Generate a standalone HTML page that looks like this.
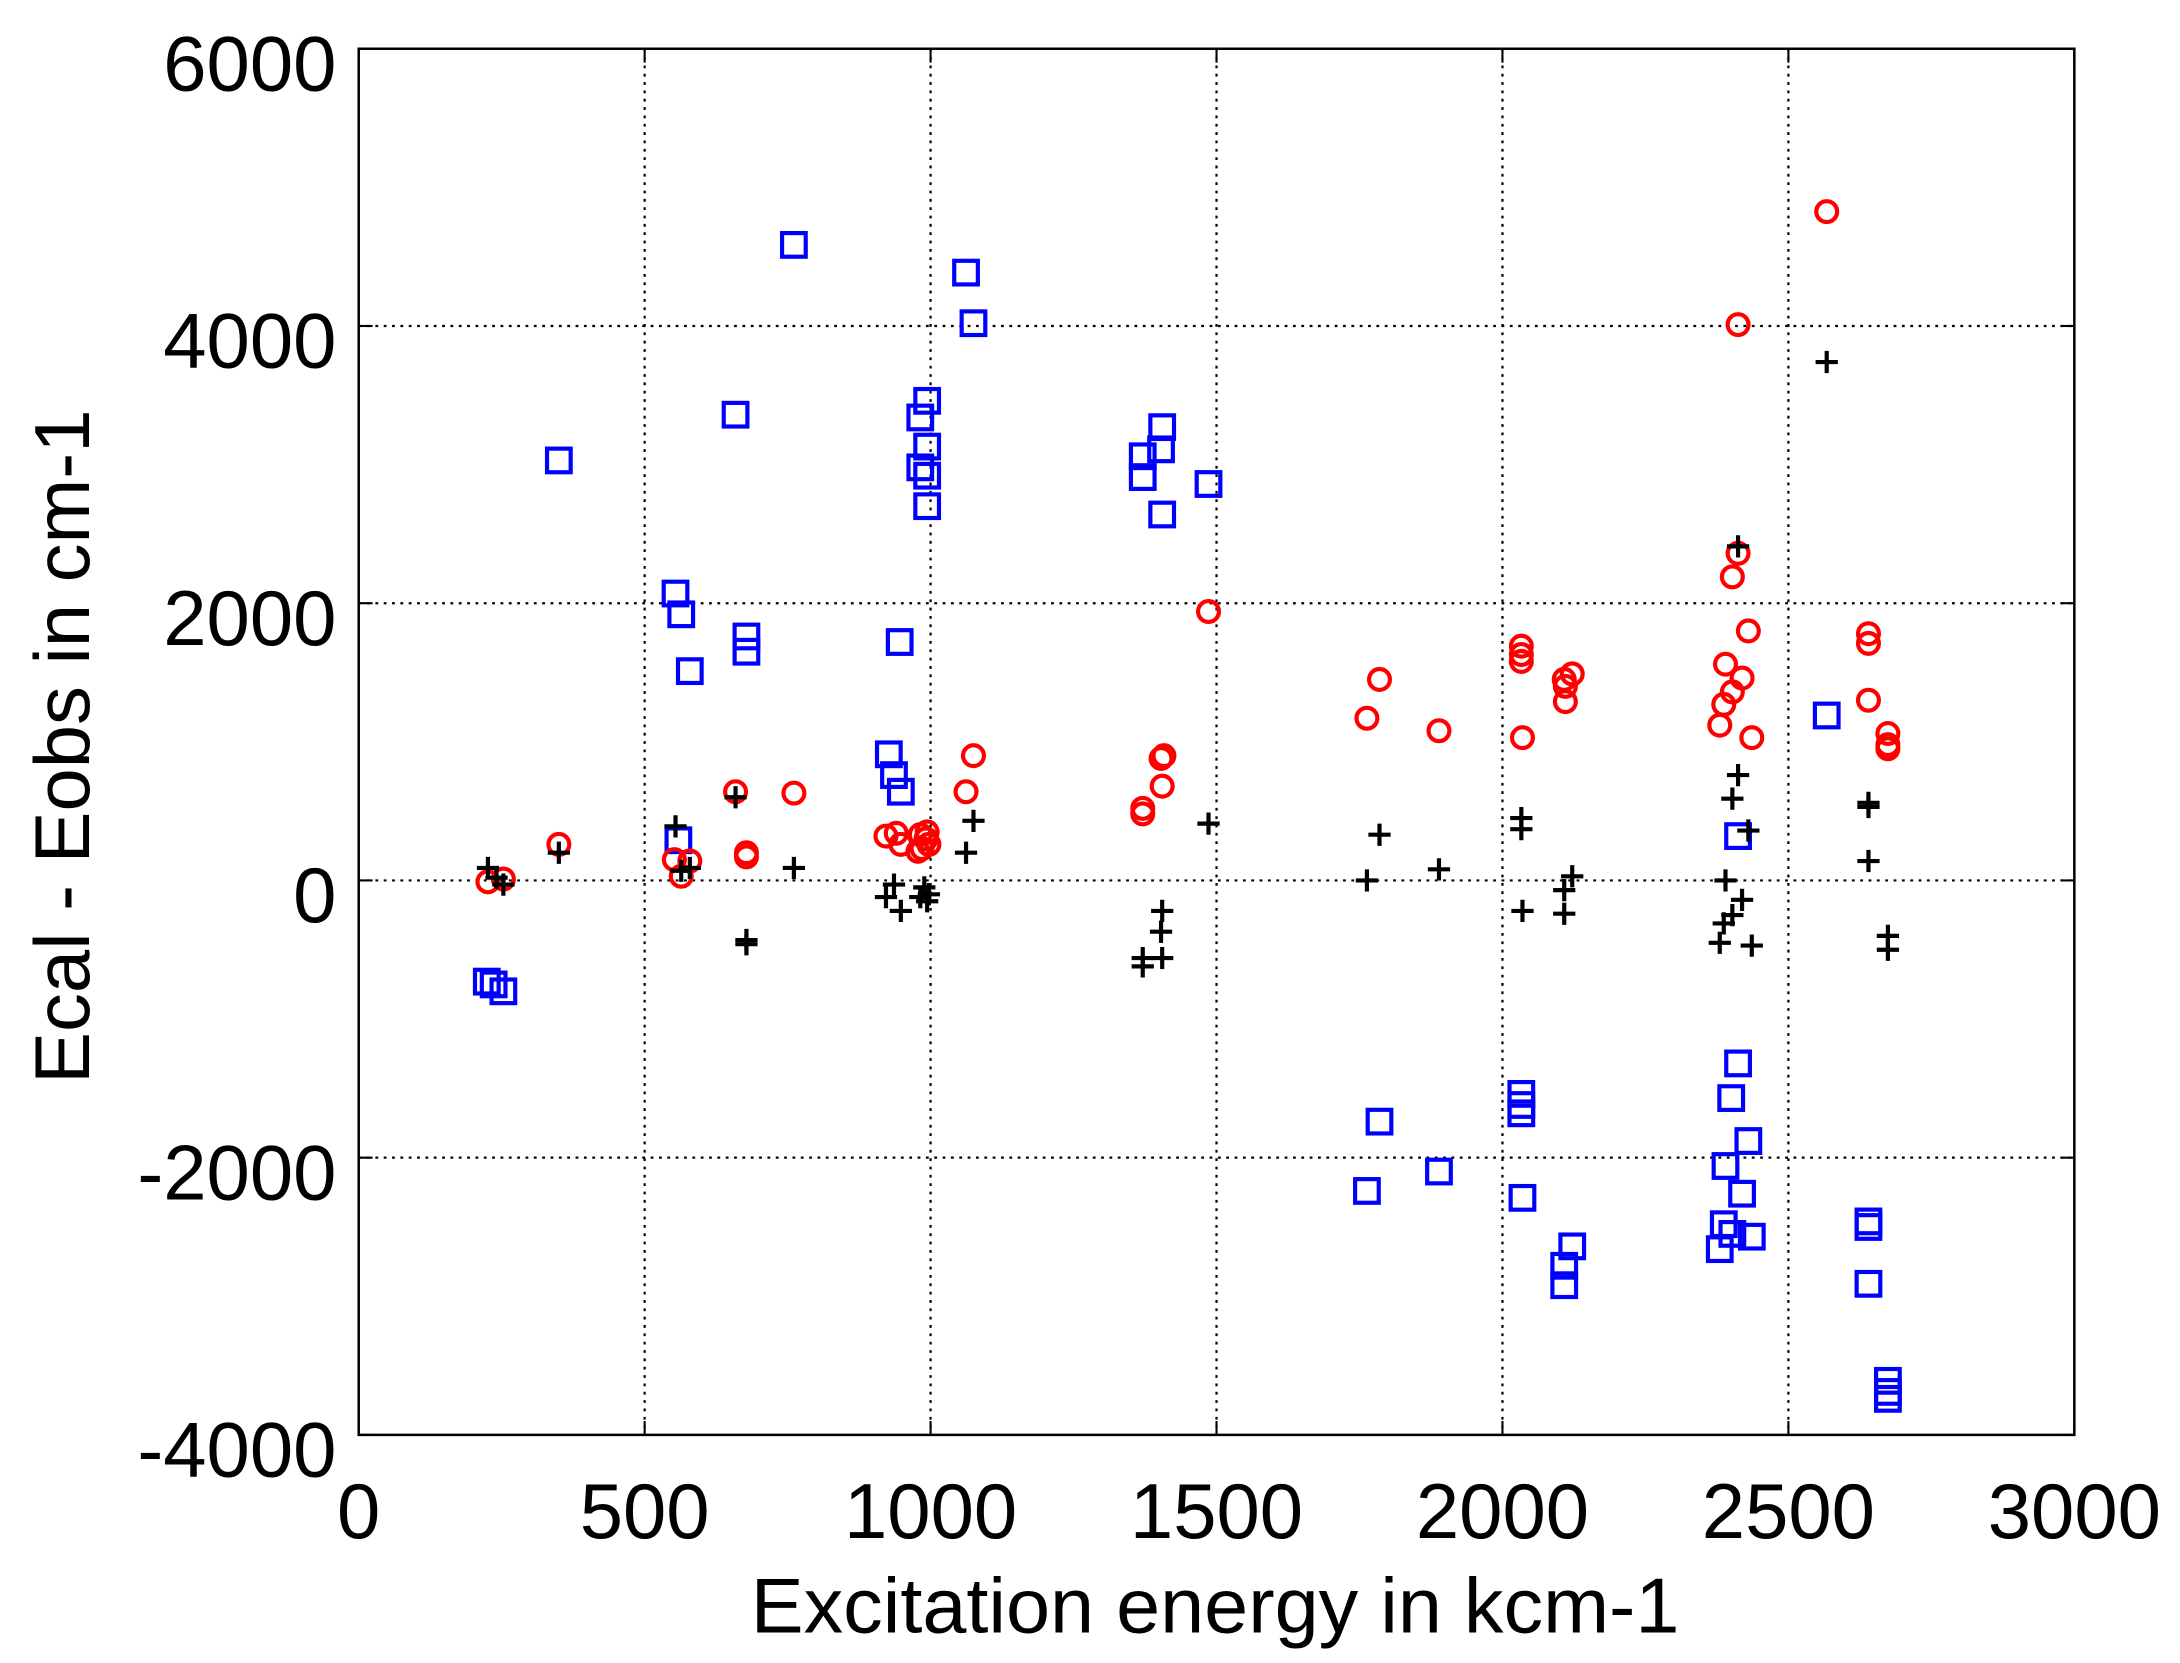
<!DOCTYPE html>
<html><head><meta charset="utf-8"><style>
html,body{margin:0;padding:0;background:#fff;}
svg{display:block;}
text{font-family:"Liberation Sans",Arial,sans-serif;fill:#000;}
</style></head><body>
<svg id="chart" width="2180" height="1663" viewBox="0 0 1568 1196" xmlns="http://www.w3.org/2000/svg">
<rect x="0" y="0" width="1568" height="1196" fill="#fff"/>
<g id="grid"></g>
<g id="ticks"></g>
<g id="marks"></g>
<rect x="258" y="35" width="1234" height="997" fill="none" stroke="#000" stroke-width="1.8"/>
<text x="874" y="1174" font-size="56" text-anchor="middle" textLength="668" lengthAdjust="spacingAndGlyphs">Excitation energy in kcm-1</text>
<text transform="translate(64,537) rotate(-90)" font-size="56" text-anchor="middle" textLength="485" lengthAdjust="spacingAndGlyphs">Ecal - Eobs in cm-1</text>
</svg>
<script>
const xTicks=[0,500,1000,1500,2000,2500,3000];
const yTicks=[-4000,-2000,0,2000,4000,6000];
const blueX=[224,236,253,350,761,1062,1075,659,982,994,994,982,994,994,1371,1371,1405,1403,1405,1486,554,564,579,678,678,946,927,936,948,559,2567,2412,1763,1785,1889,2033,2033,2033,2035,2108,2108,2122,2412,2400,2390,2430,2419,2387,2402,2380,2436,2640,2640,2640,2674,2674,2674];
const blueY=[-730,-750,-800,3030,4585,4385,4020,3360,3340,3460,3130,2980,2920,2700,3060,2910,3270,3110,2640,2860,2070,1920,1510,1760,1650,1720,910,760,640,290,1190,320,-2240,-1740,-2100,-1540,-1620,-1680,-2290,-2780,-2920,-2640,-1320,-1570,-2060,-1880,-2260,-2480,-2550,-2660,-2570,-2460,-2500,-2910,-3610,-3690,-3740];
const redX=[226,253,350,552,564,579,659,678,678,761,922,940,948,982,985,992,997,994,978,1062,1075,1371,1371,1403,1408,1405,1486,1763,1785,1889,2033,2033,2033,2035,2108,2110,2110,2122,2412,2567,2412,2402,2430,2390,2419,2402,2387,2380,2436,2640,2640,2640,2674,2674,2674];
const redY=[-10,10,260,150,30,140,640,200,170,630,320,340,260,330,230,300,260,350,210,640,900,520,480,880,900,680,1940,1170,1450,1080,1690,1630,1580,1030,1450,1290,1400,1490,4010,4825,2360,2190,1800,1560,1460,1360,1270,1120,1030,1780,1710,1300,1060,980,950];
const blackX=[226,241,253,350,554,564,579,659,678,678,761,922,936,948,982,994,989,997,1062,1075,1371,1371,1405,1403,1405,1486,1763,1785,1889,2033,2033,2035,2108,2108,2122,2567,2412,2412,2402,2430,2390,2419,2402,2387,2380,2436,2640,2640,2640,2674,2674];
const blackY=[90,20,-30,200,390,70,90,600,-430,-460,90,-120,-30,-220,-120,-150,-50,-100,200,430,-560,-620,-220,-370,-560,410,0,330,80,450,370,-220,-70,-240,30,3740,2410,760,590,360,0,-140,-250,-310,-450,-470,560,530,140,-400,-500];

const L=258,R=1492,T=35,B=1032;
const sx=v=>L+(v-0)/3000*(R-L);
const sy=v=>B-(v+4000)/10000*(B-T);
const NS="http://www.w3.org/2000/svg";
function mk(tag,attrs,parent){const e=document.createElementNS(NS,tag);for(const k in attrs)e.setAttribute(k,attrs[k]);parent.appendChild(e);return e;}
const grid=document.getElementById('grid'),ticks=document.getElementById('ticks'),marks=document.getElementById('marks');
xTicks.forEach(v=>{
  const x=sx(v);
  if(v>0&&v<3000){const g=mk('line',{x1:x,y1:T,x2:x,y2:B,stroke:'#000','stroke-width':1.6,'stroke-dasharray':'2 4'},grid);
  
  }
  mk('line',{x1:x,y1:B,x2:x,y2:B-10,stroke:'#000','stroke-width':1.5},ticks);
  mk('line',{x1:x,y1:T,x2:x,y2:T+10,stroke:'#000','stroke-width':1.5},ticks);
  const t=mk('text',{x:x,y:1106,'font-size':56,'text-anchor':'middle'},ticks);
  t.textContent=v;
  
  
});
yTicks.forEach(v=>{
  const y=sy(v);
  if(v>-4000&&v<6000){const g=mk('line',{x1:L,y1:y,x2:R,y2:y,stroke:'#000','stroke-width':1.6,'stroke-dasharray':'2 4'},grid);
  
  }
  mk('line',{x1:L,y1:y,x2:L+10,y2:y,stroke:'#000','stroke-width':1.5},ticks);
  mk('line',{x1:R,y1:y,x2:R-10,y2:y,stroke:'#000','stroke-width':1.5},ticks);
  const t=mk('text',{x:242,y:y+30,'font-size':56,'text-anchor':'end'},ticks);
  t.textContent=v;
  
  
});
blueX.forEach((v,i)=>{
  const e=mk('rect',{x:sx(v)-8.5,y:sy(blueY[i])-8.5,width:17,height:17,fill:'none',stroke:'#0000ff','stroke-width':3},marks);
  
  
});
redX.forEach((v,i)=>{
  const e=mk('circle',{cx:sx(v),cy:sy(redY[i]),r:7.5,fill:'none',stroke:'#ff0000','stroke-width':3},marks);
  
  
});
blackX.forEach((v,i)=>{
  const x=sx(v),y=sy(blackY[i]);
  const e=mk('path',{d:`M${x-8},${y}H${x+8}M${x},${y-8}V${y+8}`,stroke:'#000','stroke-width':3,fill:'none'},marks);
  
  
});
</script>
</body></html>
